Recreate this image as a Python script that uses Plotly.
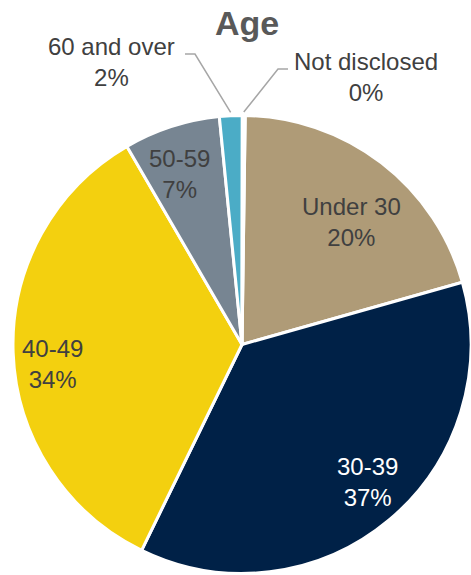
import math
import plotly.graph_objects as go

# Age distribution (share of total, %)
categories = ["Under 30", "30-39", "40-49", "50-59", "60 and over", "Not disclosed"]
shares = [20.4, 36.6, 34.4, 6.8, 1.6, 0.2]

colors = ["#AF9B77", "#002147", "#F3D00F", "#778592", "#4BACC6", "#FFFFFF"]
text_colors = ["#404040", "#FFFFFF", "#404040", "#404040", "#404040", "#404040"]
FONT = "Liberation Sans, Arial, Helvetica, sans-serif"

W, H = 471, 575
M = dict(l=13, r=0, t=114, b=0)
ROTATION = 0.8

plot_w = W - M["l"] - M["r"]
plot_h = H - M["t"] - M["b"]
R = min(plot_w, plot_h) / 2.0  # pie radius in px

fig = go.Figure(
    go.Pie(
        labels=categories,
        values=shares,
        sort=False,
        direction="clockwise",
        rotation=ROTATION,
        marker=dict(colors=colors, line=dict(color="#FFFFFF", width=3)),
        textinfo="none",
        hoverinfo="label+percent",
        showlegend=False,
        domain=dict(x=[0, 1], y=[0, 1]),
    )
)

total = sum(shares)
pct = [round(v / total * 100) for v in shares]

# mid-angle of each slice, degrees clockwise from 12 o'clock
mids = []
acc = 0.0
for v in shares:
    mids.append(ROTATION + (acc + v / 2.0) / total * 360.0)
    acc += v


def polar_to_paper(angle_deg, r_frac):
    a = math.radians(angle_deg)
    dx = R * r_frac * math.sin(a)
    dy = R * r_frac * math.cos(a)
    return 0.5 + dx / plot_w, 0.5 + dy / plot_h


def px_to_paper(x, y):
    return (x - M["l"]) / plot_w, (H - M["b"] - y) / plot_h


annotations = []

# labels drawn inside the large slices: (radius fraction, angular nudge)
inside_place = {0: (0.715, 4.3), 1: (0.813, -2.3), 2: (0.834, -3.9), 3: (0.792, -2.4)}
for i, (rf, nudge) in inside_place.items():
    x, y = polar_to_paper(mids[i] + nudge, rf)
    annotations.append(
        dict(
            x=x, y=y, xref="paper", yref="paper",
            text=f"{categories[i]}<br>{pct[i]}%",
            showarrow=False, xanchor="center", yanchor="middle", align="center",
            font=dict(family=FONT, size=24, color=text_colors[i]),
        )
    )

# labels outside the thin slices, with elbow leader lines
outside_place = {
    4: dict(text_xy=(111, 62), elbow=(195, 54), end=(185, 54)),
    5: dict(text_xy=(366, 77), elbow=(278, 69), end=(288, 69)),
}
shapes = []
for i, p in outside_place.items():
    tx, ty = px_to_paper(*p["text_xy"])
    annotations.append(
        dict(
            x=tx, y=ty, xref="paper", yref="paper",
            text=f"{categories[i]}<br>{pct[i]}%",
            showarrow=False, xanchor="center", yanchor="middle", align="center",
            font=dict(family=FONT, size=24, color="#404040"),
        )
    )
    sx, sy = polar_to_paper(mids[i], 1.015)
    ex, ey = px_to_paper(*p["elbow"])
    fx, fy = px_to_paper(*p["end"])
    shapes.append(
        dict(
            type="path", xref="paper", yref="paper",
            path=f"M {sx} {sy} L {ex} {ey} L {fx} {fy}",
            line=dict(color="#A6A6A6", width=1.5),
        )
    )

# chart title
tx, ty = px_to_paper(247, 23)
annotations.append(
    dict(
        x=tx, y=ty, xref="paper", yref="paper",
        text="<b>Age</b>", showarrow=False, xanchor="center", yanchor="middle",
        font=dict(family=FONT, size=34, color="#595959"),
    )
)

fig.update_layout(
    width=W,
    height=H,
    margin=M,
    paper_bgcolor="#FFFFFF",
    plot_bgcolor="#FFFFFF",
    annotations=annotations,
    shapes=shapes,
)

fig.write_html("out.html")
